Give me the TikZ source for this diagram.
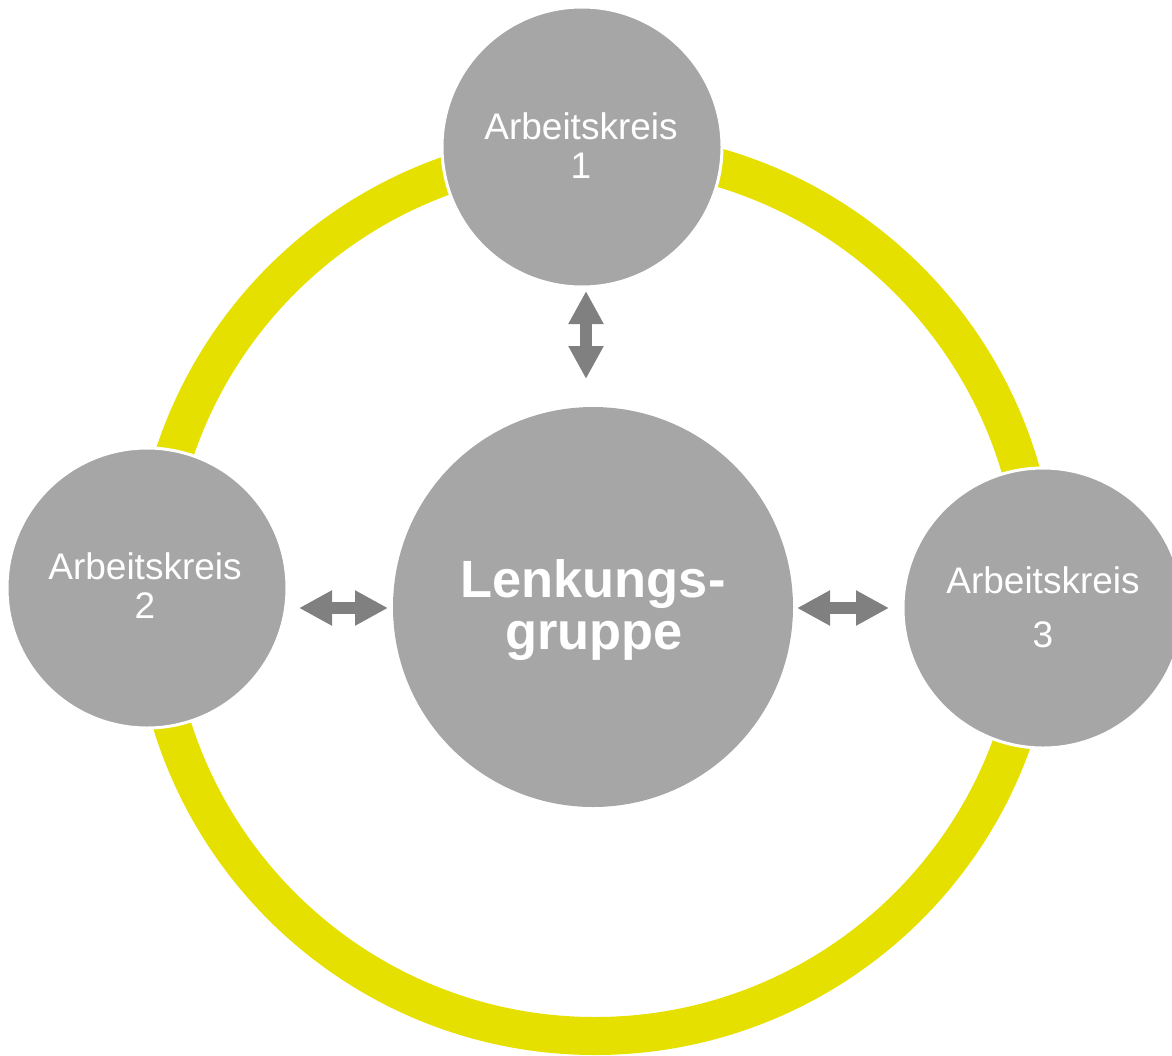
\documentclass[tikz,border=0pt]{standalone}
\usepackage{fontspec}
\setmainfont{Liberation Sans}
\usetikzlibrary{arrows.meta}
\definecolor{ringyellow}{RGB}{230,224,0}
\definecolor{circgray}{RGB}{166,166,166}
\definecolor{arrgray}{RGB}{128,128,128}
\begin{document}
\begin{tikzpicture}[x=0.5pt,y=-0.5pt,
 ring/.style={circle,draw=ringyellow,line width=19pt,minimum size=443pt,inner sep=0pt},
 small/.style={circle,fill=circgray,draw=white,line width=1.5pt,minimum size=140pt,inner sep=0pt},
 big/.style={circle,fill=circgray,minimum size=200pt,inner sep=0pt},
 lbl/.style={anchor=base,text=white,inner sep=0pt,font=\fontsize{18.5pt}{20pt}\selectfont},
 blbl/.style={anchor=base,text=white,inner sep=0pt,font=\fontsize{26.2pt}{28pt}\selectfont\bfseries},
 dbl/.style={draw=arrgray,line width=5.75pt,{Triangle[width=16.5pt,length=16.5pt]}-{Triangle[width=16.5pt,length=16.5pt]}}
]
\useasboundingbox (0,0) rectangle (1172,1055);
\clip (0,0) rectangle (1172,1055);
\node[ring] (ring) at (595,593) {};
\node[big] (lg) at (593,607) {};
\node[small] (c1) at (582,147) {};
\node[small] (c2) at (147,588) {};
\node[small] (c3) at (1043,608) {};
% labels
\node[lbl] (t1a) at (581,139) {Arbeitskreis};
\node[lbl] (t1b) at (581,178) {1};
\node[lbl] (t2a) at (145,579) {Arbeitskreis};
\node[lbl] (t2b) at (145,618) {2};
\node[lbl] (t3a) at (1043,593) {Arbeitskreis};
\node[lbl] (t3b) at (1043,647) {3};
\node[blbl] (tla) at (593,597) {Lenkungs-};
\node[blbl] (tlb) at (594,649) {gruppe};
% arrows
\coordinate (v1) at (586,291);
\coordinate (v2) at (586,379);
\coordinate (l1) at (299,608);
\coordinate (l2) at (388,608);
\coordinate (r1) at (797,608);
\coordinate (r2) at (889,608);
\draw[dbl] (v1) -- (v2);
\draw[dbl] (l1) -- (l2);
\draw[dbl] (r1) -- (r2);
\end{tikzpicture}
\end{document}
